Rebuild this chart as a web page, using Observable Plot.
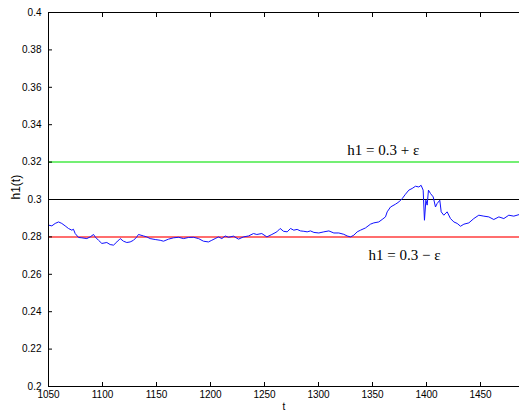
<!DOCTYPE html>
<html><head><meta charset="utf-8">
<script src="https://cdn.jsdelivr.net/npm/d3@7"></script>
<script src="https://cdn.jsdelivr.net/npm/@observablehq/plot@0.6"></script>
<style>body{margin:0;background:#fff}</style>
</head><body><div id="chart"></div>
<script>
const tValues = [1050.0,1053.1,1056.2,1059.3,1062.3,1065.4,1068.5,1071.6,1073.1,1074.7,1077.8,1080.9,1085.5,1088.6,1091.7,1093.2,1096.3,1099.4,1104.0,1107.1,1110.2,1113.3,1116.4,1119.4,1122.5,1125.6,1128.7,1131.8,1133.3,1138.0,1141.0,1144.1,1148.8,1153.4,1156.5,1161.1,1165.7,1170.4,1175.0,1179.6,1184.3,1188.9,1193.5,1198.1,1201.2,1204.3,1207.4,1210.5,1213.6,1216.7,1221.3,1225.9,1230.6,1235.2,1239.8,1242.9,1247.5,1252.2,1256.8,1261.4,1264.5,1267.6,1271.0,1274.1,1277.1,1280.2,1283.3,1286.4,1289.5,1292.6,1295.7,1300.3,1304.9,1309.6,1314.2,1318.8,1323.4,1326.5,1329.6,1332.7,1335.8,1338.9,1343.5,1348.1,1351.2,1355.8,1358.9,1362.0,1363.6,1366.7,1371.3,1374.4,1377.5,1380.5,1383.6,1386.7,1389.8,1392.9,1395.0,1396.9,1398.1,1399.4,1400.6,1401.8,1403.7,1406.2,1408.3,1409.9,1412.3,1413.6,1416.0,1419.1,1422.2,1425.3,1428.4,1431.5,1434.6,1439.2,1443.8,1448.4,1453.1,1457.7,1462.3,1467.0,1471.6,1476.2,1480.8,1486.1];
const h1Values = [0.2863,0.2859,0.2872,0.2880,0.2872,0.2859,0.2845,0.2836,0.2841,0.2818,0.2797,0.2795,0.2791,0.2800,0.2813,0.2800,0.2782,0.2765,0.2770,0.2759,0.2756,0.2773,0.2791,0.2777,0.2770,0.2773,0.2782,0.2800,0.2813,0.2805,0.2800,0.2791,0.2786,0.2782,0.2777,0.2788,0.2795,0.2798,0.2791,0.2797,0.2798,0.2791,0.2777,0.2773,0.2782,0.2791,0.2800,0.2791,0.2805,0.2798,0.2804,0.2788,0.2800,0.2805,0.2818,0.2813,0.2818,0.2800,0.2813,0.2827,0.2845,0.2830,0.2827,0.2845,0.2836,0.2840,0.2832,0.2830,0.2827,0.2832,0.2824,0.2821,0.2827,0.2832,0.2821,0.2821,0.2814,0.2805,0.2800,0.2809,0.2827,0.2836,0.2848,0.2868,0.2875,0.2880,0.2893,0.2907,0.2934,0.2960,0.2975,0.2987,0.3005,0.3028,0.3050,0.3059,0.3071,0.3067,0.3076,0.3050,0.2889,0.2996,0.2970,0.3050,0.3032,0.3014,0.2960,0.2979,0.2996,0.2934,0.2916,0.2934,0.2898,0.2880,0.2872,0.2857,0.2868,0.2875,0.2898,0.2916,0.2911,0.2907,0.2893,0.2907,0.2898,0.2916,0.2911,0.2920];
const xTicks = [1050,1100,1150,1200,1250,1300,1350,1400,1450];
const yTicks = [0.2,0.22,0.24,0.26,0.28,0.3,0.32,0.34,0.36,0.38,0.4];
const xDomain = [1050, 1486.1];
const yDomain = [0.2, 0.4];
const levelValues = [0.32, 0.28, 0.3];
const levelColors = ["#74ef74", "#ff6e6e", "#000000"];
const levelWidths = [2, 2, 1];
const annotationText = ["h1 = 0.3 + \u03B5", "h1 = 0.3 \u2212 \u03B5"];
const annotationT = [1326.6, 1346.3];
const annotationH = [0.3237, 0.2675];
const xLabel = "t";
const yLabel = "h1(t)";

const series = tValues.map((t, i) => ({t, h: h1Values[i]}));
const levels = levelValues.map((v, i) => ({v, color: levelColors[i], w: levelWidths[i]}));
const notes = annotationText.map((s, i) => ({s, t: annotationT[i], h: annotationH[i]}));

const fmtY = d => String(+d.toFixed(2));

const chart = Plot.plot({
  width: 519,
  height: 413,
  marginLeft: 48,
  marginRight: 0,
  marginTop: 12,
  marginBottom: 27,
  style: {fontFamily: "Liberation Sans, Arial, sans-serif", fontSize: "10px", background: "#fff", overflow: "visible"},
  x: {domain: xDomain},
  y: {domain: yDomain},
  marks: [
    Plot.ruleY(levels, {y: "v", stroke: "color", strokeWidth: "w"}),
    Plot.line(series, {x: "t", y: "h", stroke: "#1010ff", strokeWidth: 1}),
    Plot.ruleX([xDomain[0]], {stroke: "black"}),
    Plot.ruleY(yDomain, {stroke: "black"}),
    Plot.axisX(xTicks, {anchor: "bottom", tickSize: 0, tickPadding: 4, tickFormat: d => String(d), label: null, fill: "#000"}),
    Plot.axisX(xTicks, {anchor: "bottom", tickSize: -4, fill: "none", label: null}),
    Plot.axisX(xTicks, {anchor: "top", tickSize: -4, fill: "none", label: null}),
    Plot.axisY(yTicks, {anchor: "left", tickSize: 0, tickPadding: 7, tickFormat: fmtY, label: null, fill: "#000"}),
    Plot.axisY(yTicks, {anchor: "left", tickSize: -4, fill: "none", label: null}),
    Plot.text([xLabel], {frameAnchor: "bottom", dy: 16, lineAnchor: "top", fontSize: 10, fill: "#000"}),
    Plot.text([yLabel], {frameAnchor: "left", dx: -32, rotate: -90, fontSize: 12, fill: "#000"}),
    Plot.text(notes, {x: "t", y: "h", text: "s", textAnchor: "start", lineAnchor: "bottom", fontFamily: "Liberation Serif, Times New Roman, serif", fontSize: 15, fill: "#000"})
  ]
});
document.getElementById("chart").appendChild(chart);
</script>
</body></html>
